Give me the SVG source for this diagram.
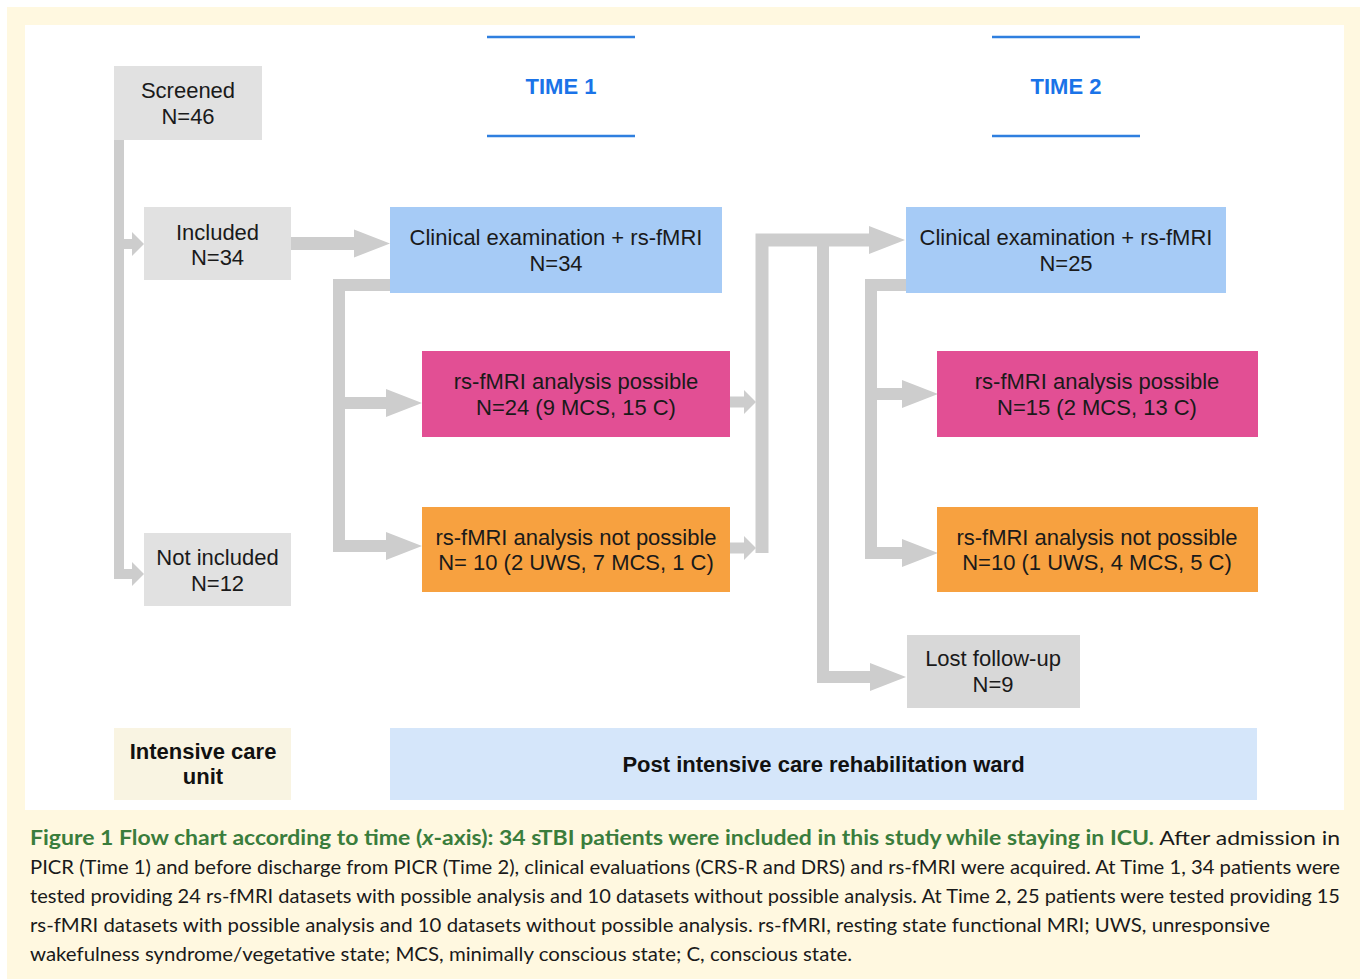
<svg xmlns="http://www.w3.org/2000/svg" width="1360" height="979" viewBox="0 0 1360 979">
<style>
.lbl{font-family:"Liberation Sans",Arial,sans-serif;font-size:22px;fill:#1a1a1a;text-anchor:middle}
.bold{font-weight:bold;fill:#111}
.time{font-family:"Liberation Sans",Arial,sans-serif;font-size:22px;font-weight:bold;fill:#1a73e8;text-anchor:middle}
.tl{stroke:#2f7fdf;stroke-width:2.5}
.gray{fill:#e1e1e1}
.lost{fill:#d8d8d8}
.blue{fill:#a6cbf6}
.pink{fill:#e24f94}
.orange{fill:#f7a140}
.cap{font-family:Lato,"Liberation Sans",sans-serif;font-size:20px;fill:#1a1a1a}
.capb{font-weight:bold;fill:#3a7d3c}
.conn path{fill:none;stroke:#cdcdcd;stroke-linejoin:miter}
</style>
<defs>
<marker id="big" markerUnits="userSpaceOnUse" markerWidth="36" markerHeight="28" refX="0" refY="14" orient="auto" overflow="visible">
<path d="M0,0 L36,14 L0,28 Z" fill="#cdcdcd"/>
</marker>
<marker id="small" markerUnits="userSpaceOnUse" markerWidth="12" markerHeight="24" refX="0" refY="12" orient="auto" overflow="visible">
<path d="M0,0 L12,12 L0,24 Z" fill="#cdcdcd"/>
</marker>
</defs>
<rect x="0" y="0" width="1360" height="979" fill="#ffffff"/>
<rect x="7" y="7" width="1353" height="972" fill="#fff8e0"/>
<rect x="25" y="25" width="1319" height="785" fill="#ffffff"/>

<g id="time1">
<line class="tl" x1="487" y1="37" x2="635" y2="37"/>
<text class="time" x="561" y="94">TIME 1</text>
<line class="tl" x1="487" y1="136" x2="635" y2="136"/>
</g>
<g id="time2">
<line class="tl" x1="992" y1="37" x2="1140" y2="37"/>
<text class="time" x="1066" y="94">TIME 2</text>
<line class="tl" x1="992" y1="136" x2="1140" y2="136"/>
</g>

<g class="conn" id="connectors">
<path d="M119,140 V574 H132" stroke-width="10" marker-end="url(#small)"/>
<path d="M124,244 H132" stroke-width="10" marker-end="url(#small)"/>
<path d="M291,243.5 H354" stroke-width="13" marker-end="url(#big)"/>
<path d="M390,285 H339 V546 H386" stroke-width="12" marker-end="url(#big)"/>
<path d="M339,403 H386" stroke-width="12" marker-end="url(#big)"/>
<path d="M730,402 H744" stroke-width="11" marker-end="url(#small)"/>
<path d="M730,548 H744" stroke-width="11" marker-end="url(#small)"/>
<path d="M762,553 V240 H869" stroke-width="13" marker-end="url(#big)"/>
<path d="M823,240 V677 H870" stroke-width="12" marker-end="url(#big)"/>
<path d="M906,285 H871 V553 H902" stroke-width="12" marker-end="url(#big)"/>
<path d="M871,394 H902" stroke-width="12" marker-end="url(#big)"/>
</g>

<g id="screened">
<rect class="gray" x="114" y="66" width="148" height="74"/>
<text class="lbl" x="188" y="98">Screened</text>
<text class="lbl" x="188" y="124">N=46</text>
</g>
<g id="included">
<rect class="gray" x="144" y="207" width="147" height="73"/>
<text class="lbl" x="217.5" y="239.5">Included</text>
<text class="lbl" x="217.5" y="265">N=34</text>
</g>
<g id="notincluded">
<rect class="gray" x="144" y="533" width="147" height="73"/>
<text class="lbl" x="217.5" y="565">Not included</text>
<text class="lbl" x="217.5" y="590.5">N=12</text>
</g>
<g id="clinical1">
<rect class="blue" x="390" y="207" width="332" height="86"/>
<text class="lbl" x="556" y="245">Clinical examination + rs-fMRI</text>
<text class="lbl" x="556" y="271">N=34</text>
</g>
<g id="possible1">
<rect class="pink" x="422" y="351" width="308" height="86"/>
<text class="lbl" x="576" y="389">rs-fMRI analysis possible</text>
<text class="lbl" x="576" y="415">N=24 (9 MCS, 15 C)</text>
</g>
<g id="notpossible1">
<rect class="orange" x="422" y="507" width="308" height="85"/>
<text class="lbl" x="576" y="545">rs-fMRI analysis not possible</text>
<text class="lbl" x="576" y="570">N= 10 (2 UWS, 7 MCS, 1 C)</text>
</g>
<g id="clinical2">
<rect class="blue" x="906" y="207" width="320" height="86"/>
<text class="lbl" x="1066" y="245">Clinical examination + rs-fMRI</text>
<text class="lbl" x="1066" y="271">N=25</text>
</g>
<g id="possible2">
<rect class="pink" x="937" y="351" width="321" height="86"/>
<text class="lbl" x="1097" y="389">rs-fMRI analysis possible</text>
<text class="lbl" x="1097" y="415">N=15 (2 MCS, 13 C)</text>
</g>
<g id="notpossible2">
<rect class="orange" x="937" y="507" width="321" height="85"/>
<text class="lbl" x="1097" y="545">rs-fMRI analysis not possible</text>
<text class="lbl" x="1097" y="570">N=10 (1 UWS, 4 MCS, 5 C)</text>
</g>
<g id="lost">
<rect class="lost" x="907" y="635" width="173" height="73"/>
<text class="lbl" x="993" y="666">Lost follow-up</text>
<text class="lbl" x="993" y="692">N=9</text>
</g>
<g id="icu">
<rect x="114" y="728" width="177" height="72" fill="#f9f4e2"/>
<text class="lbl bold" x="203" y="759">Intensive care</text>
<text class="lbl bold" x="203" y="784">unit</text>
</g>
<g id="ward">
<rect x="390" y="728" width="867" height="72" fill="#d5e6fa"/>
<text class="lbl bold" x="823.5" y="772">Post intensive care rehabilitation ward</text>
</g>

<g id="caption">
<text class="cap" x="30" y="845" textLength="1310" lengthAdjust="spacingAndGlyphs"><tspan class="capb">Figure 1 Flow chart according to time (<tspan font-style="italic">x</tspan>-axis): 34 sTBI patients were included in this study while staying in ICU.</tspan> After admission in</text>
<text class="cap" x="30" y="874" textLength="1310" lengthAdjust="spacingAndGlyphs">PICR (Time 1) and before discharge from PICR (Time 2), clinical evaluations (CRS-R and DRS) and rs-fMRI were acquired. At Time 1, 34 patients were</text>
<text class="cap" x="30" y="903" textLength="1310" lengthAdjust="spacingAndGlyphs">tested providing 24 rs-fMRI datasets with possible analysis and 10 datasets without possible analysis. At Time 2, 25 patients were tested providing 15</text>
<text class="cap" x="30" y="932" textLength="1240" lengthAdjust="spacingAndGlyphs">rs-fMRI datasets with possible analysis and 10 datasets without possible analysis. rs-fMRI, resting state functional MRI; UWS, unresponsive</text>
<text class="cap" x="30" y="961" textLength="822" lengthAdjust="spacingAndGlyphs">wakefulness syndrome/vegetative state; MCS, minimally conscious state; C, conscious state.</text>
</g>
</svg>
